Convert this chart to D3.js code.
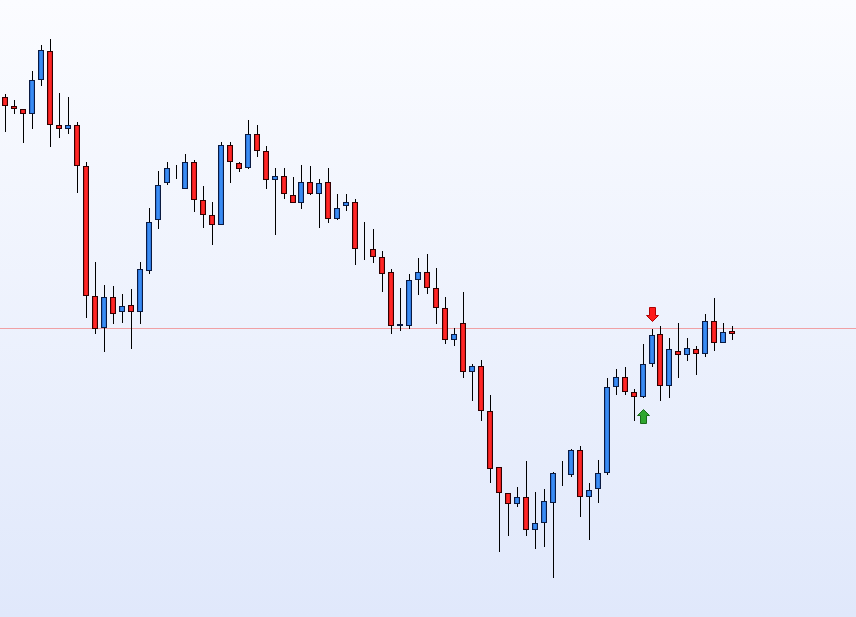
<!DOCTYPE html>
<html>
<head>
<meta charset="utf-8">
<script src="https://cdn.jsdelivr.net/npm/d3@7"></script>
<style>
html,body{margin:0;padding:0;overflow:hidden;background:#fff;}
svg{display:block;}
</style>
</head>
<body>
<svg id="chart" width="856" height="617"></svg>
<script>
// ---- data (price units) ----
const opens  = [519.7,510.7,507.7,502.7,536.7,565.7,491.7,488.3,491.7,450.7,321.3,288.7,319.7,304.7,311.7,304.7,345.7,396.7,433.7,448.7,427.7,454.7,416.7,401.7,391.7,471.7,453.7,448.7,482.7,465.7,436.7,440.7,421.7,413.7,434.7,422.7,434.7,397.7,410.7,414.7,368.7,367.7,359.7,344.7,290.7,290.7,336.7,344.7,328.7,308.7,276.7,293.7,244.7,250.7,205.7,149.7,123.7,112.7,119.7,86.7,93.7,113.7,141.7,141.7,166.7,119.7,127.7,143.7,229.7,239.7,224.7,219.7,252.7,282.7,230.7,265.7,261.7,267.7,262.7,295.7,273.7,285.7];
const highs  = [523,517,507.7,546,572,578,524,520,494.7,454.7,355,331.7,330.7,322.7,327.7,354.7,409.3,446,455,452,463,456.7,430.7,414.7,474.7,474.7,454.7,496.7,492,470.7,448.7,448.7,439.7,452,450.7,437.7,448.7,422.7,422.7,417.7,394.7,387.7,365.7,347.7,328.7,342.7,358.7,362.7,348.7,319.7,288.7,324.7,253,256.7,221.7,149.7,123.7,129.7,155.7,124.7,127.7,144.7,155.7,167.7,170.7,133.7,156.7,238.7,247.7,249.7,227.7,272.7,287.7,290.7,278.7,293.7,278.7,270.7,302.7,318.7,293.7,290.7];
const lows   = [485.3,502.7,474.3,488.3,531.3,470.3,479.3,483.3,424.3,299.3,282.7,265.3,292.7,293.7,268.3,292.7,342.7,387.7,431.7,437.7,427.7,404.7,388.7,371.7,391.7,433.7,444.7,447.7,460.5,428.3,382.3,417.7,413.7,407.7,421.7,388.7,393.7,396.7,405.7,351.7,356.7,353.7,324.7,282.7,285.7,287.7,321.7,322.7,292.7,272.7,270.7,238.7,216.3,196.3,133.7,64.7,80.7,109.7,80.7,67.7,69.7,38.7,130.7,139.7,100.5,76.7,113.7,141.7,221.7,221.7,195.7,218.7,249.7,215.7,218.7,238.7,255.7,241.7,259.7,265.7,273.7,276.7];
const closes = [510.7,507.7,502.7,536.7,566.7,491.7,488.3,491.7,451.3,321.3,287.7,319.7,302.7,310.7,304.7,347.7,394.7,431.7,448.7,448.7,454.7,416.7,401.7,391.7,471.7,454.7,447.7,482.7,465.7,436.7,440.7,422.7,413.7,434.7,422.7,433.7,397.7,408.7,414.7,367.7,367.7,359.7,342.7,290.7,292.7,336.7,344.7,328.7,308.7,276.7,282.7,244.7,250.7,205.7,147.7,123.7,112.7,119.7,86.7,93.7,115.7,143.7,141.7,166.7,119.7,126.7,143.7,229.7,239.7,224.7,219.7,252.7,281.7,230.7,267.7,261.7,268.7,262.7,295.7,273.7,284.7,282.7];
const refLevel = 288.7;
const buySignals  = [71];
const sellSignals = [72];

const W = 856, H = 617;
const svg = d3.select('#chart');
const defs = svg.append('defs');

// background gradient
const bg = defs.append('linearGradient').attr('id','bg').attr('x1',0).attr('y1',0).attr('x2',0).attr('y2',1);
bg.append('stop').attr('offset','0%').attr('stop-color','#fbfcff');
bg.append('stop').attr('offset','100%').attr('stop-color','#e0e8fb');
svg.append('rect').attr('width',W).attr('height',H).attr('fill','url(#bg)');

function hGrad(id, edge, mid){
  const g = defs.append('linearGradient').attr('id',id).attr('x1',0).attr('y1',0).attr('x2',1).attr('y2',0);
  g.append('stop').attr('offset','0%').attr('stop-color',edge);
  g.append('stop').attr('offset','40%').attr('stop-color',mid);
  g.append('stop').attr('offset','70%').attr('stop-color',mid);
  g.append('stop').attr('offset','100%').attr('stop-color',edge);
}
hGrad('gRed','#c01010','#ff2626');
hGrad('gBlue','#1d5cc4','#3a8cf2');

const idx = d3.range(opens.length);
const x = d3.scalePoint().domain(idx).range([5.3, 732.3]);
const y = d3.scaleLinear().domain([0, 617]).range([617, 0]);

// reference line
svg.append('line')
  .attr('x1',0).attr('x2',W)
  .attr('y1',Math.round(y(refLevel))+0.5).attr('y2',Math.round(y(refLevel))+0.5)
  .attr('stroke','#f0a0a4').attr('stroke-width',1);

const data = idx.map(i => ({i, o:opens[i], h:highs[i], l:lows[i], c:closes[i]}));
const g = svg.append('g');
const cand = g.selectAll('g.c').data(data).join('g').attr('class','c');

cand.append('line')
  .attr('x1', d => Math.round(x(d.i))+0.5)
  .attr('x2', d => Math.round(x(d.i))+0.5)
  .attr('y1', d => Math.round(y(d.h)))
  .attr('y2', d => Math.round(y(d.l)))
  .attr('stroke','#000').attr('stroke-width',1);

cand.append('rect')
  .attr('x', d => Math.round(x(d.i))-2.5)
  .attr('width', 5)
  .attr('y', d => Math.round(y(Math.max(d.o,d.c)))+0.5)
  .attr('height', d => Math.max(0, Math.round(y(Math.min(d.o,d.c))) - Math.round(y(Math.max(d.o,d.c))) - 1))
  .attr('fill', d => Math.abs(d.o-d.c) < 1.5 ? '#222' : (d.c >= d.o ? 'url(#gBlue)' : 'url(#gRed)'))
  .attr('stroke', d => Math.abs(d.o-d.c) < 1.5 ? '#222' : (d.c >= d.o ? '#0a1a40' : '#300000'))
  .attr('stroke-width',1);

// arrows
function arrowPath(cx, ty, dir){ // dir=1 pointing down (tip at ty), -1 pointing up
  const s = dir;
  const pts = [
    [cx-3, ty - s*14],[cx+3, ty - s*14],[cx+3, ty - s*6],[cx+6, ty - s*6],
    [cx, ty],[cx-6, ty - s*6],[cx-3, ty - s*6]
  ];
  return 'M' + pts.map(p => p.join(',')).join('L') + 'Z';
}
svg.selectAll('path.sell').data(sellSignals).join('path').attr('class','sell')
  .attr('d', i => arrowPath(Math.round(x(i))+0.5, Math.round(y(highs[i]))-7.5, 1))
  .attr('fill','#ff1a1a').attr('stroke','#b00000').attr('stroke-width',1);
svg.selectAll('path.buy').data(buySignals).join('path').attr('class','buy')
  .attr('d', i => arrowPath(Math.round(x(i))+0.5, Math.round(y(lows[i]))+11.5, -1))
  .attr('fill','#2fa52f').attr('stroke','#1a6a1a').attr('stroke-width',1);
</script>
</body>
</html>
